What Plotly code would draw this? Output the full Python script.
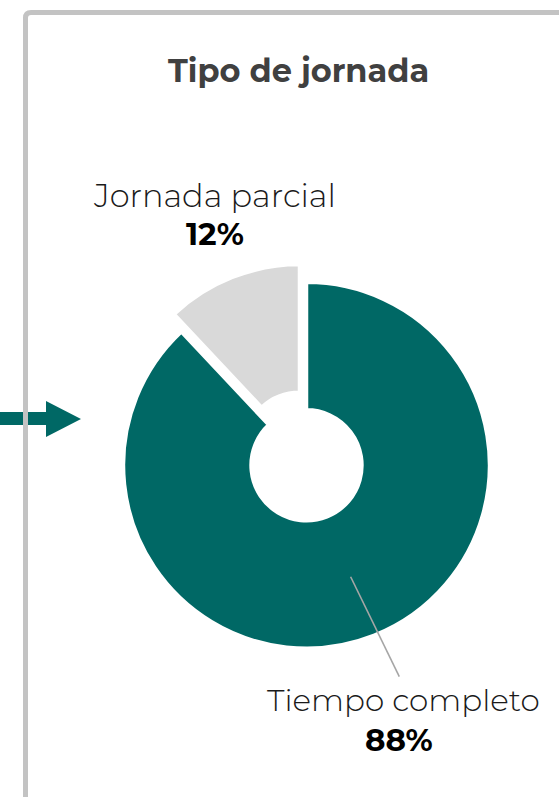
import math
import plotly.graph_objects as go

# ---- data ----
labels = ["Tiempo completo", "Jornada parcial"]
values = [88, 12]
colors = ["#006865", "#d9d9d9"]
title_text = "Tipo de jornada"

W, H = 559, 797
FONT = "Montserrat, Lato, 'Open Sans', sans-serif"
TEAL = "#006865"


def px(x):
    return x / W


def py(y):
    return 1 - y / H


# pie geometry (pixels)
cx, cy, R = 306.5, 465.3, 183.0
pull = 0.104
half = R * (1 + pull)

fig = go.Figure(
    go.Pie(
        labels=labels,
        values=values,
        sort=False,
        direction="clockwise",
        rotation=0,
        hole=0.303,
        pull=[0, pull],
        marker=dict(colors=colors, line=dict(color="white", width=3.5)),
        textinfo="none",
        hoverinfo="label+percent",
        domain=dict(x=[px(cx - half), px(cx + half)], y=[py(cy + half), py(cy - half)]),
    )
)

total = sum(values)
annotations = [
    dict(text=f"<b>{title_text}</b>", x=px(298), y=py(70), xref="paper", yref="paper",
         showarrow=False, font=dict(family=FONT, size=32, color="#404040"),
         xanchor="center", yanchor="middle"),
    dict(text=labels[1], x=px(214.5), y=py(195.5), xref="paper", yref="paper",
         showarrow=False, font=dict(family=FONT, size=32, color="#1a1a1a", weight=300),
         xanchor="center", yanchor="middle"),
    dict(text=f"<b>{round(values[1] / total * 100)}%</b>", x=px(215), y=py(234), xref="paper", yref="paper",
         showarrow=False, font=dict(family=FONT, size=31, color="#000000"),
         xanchor="center", yanchor="middle"),
    dict(text=labels[0], x=px(403.5), y=py(700), xref="paper", yref="paper",
         showarrow=False, font=dict(family=FONT, size=31, color="#1a1a1a", weight=300),
         xanchor="center", yanchor="middle"),
    dict(text=f"<b>{round(values[0] / total * 100)}%</b>", x=px(399), y=py(740), xref="paper", yref="paper",
         showarrow=False, font=dict(family=FONT, size=31, color="#000000"),
         xanchor="center", yanchor="middle"),
]

# leader line from the middle of the big slice
mid = math.radians(values[0] / 2 / total * 360)
sx = cx + 0.655 * R * math.sin(mid)
sy = cy - 0.655 * R * math.cos(mid)

shapes = [
    # arrow on the left
    dict(type="path", xref="paper", yref="paper",
         path=(f"M {px(-2)},{py(412)} L {px(46)},{py(412)} L {px(46)},{py(401)} "
               f"L {px(81)},{py(419)} L {px(46)},{py(437)} L {px(46)},{py(425)} "
               f"L {px(-2)},{py(425)} Z"),
         fillcolor=TEAL, line=dict(width=0)),
    # frame
    dict(type="path", xref="paper", yref="paper",
         path=(f"M {px(25.5)},{py(805)} L {px(25.5)},{py(18)} "
               f"Q {px(25.5)},{py(12.5)} {px(31)},{py(12.5)} L {px(565)},{py(12.5)}"),
         line=dict(color="#c3c3c3", width=5)),
    # leader line
    dict(type="line", xref="paper", yref="paper",
         x0=px(sx), y0=py(sy), x1=px(399.3), y1=py(676.7),
         line=dict(color="#a6a6a6", width=1.6)),
]

fig.update_layout(
    width=W, height=H,
    margin=dict(l=0, r=0, t=0, b=0),
    paper_bgcolor="white", plot_bgcolor="white",
    showlegend=False,
    annotations=annotations,
    shapes=shapes,
)

fig.write_html(
    "out.html",
    config={"displayModeBar": False},
    post_script="document.body.style.margin='0';document.body.style.overflow='hidden';",
)
